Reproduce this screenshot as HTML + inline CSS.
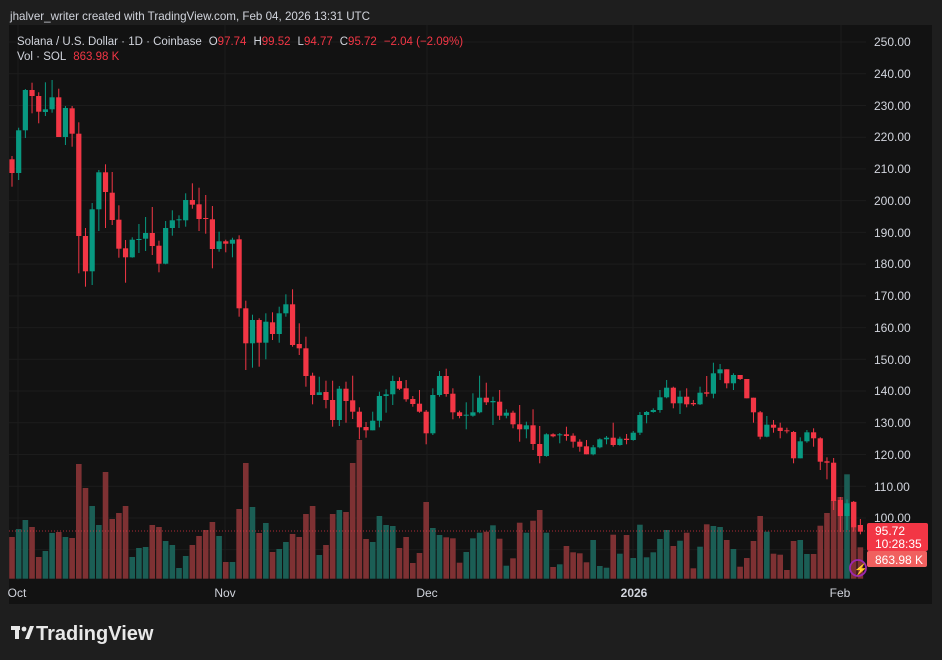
<!DOCTYPE html>
<html><head><meta charset="utf-8">
<style>
body{margin:0;width:942px;height:660px;background:#1e1e1e;overflow:hidden;font-family:"Liberation Sans",sans-serif;}
svg{position:absolute;left:0;top:0}
</style></head><body>
<svg id="s" width="942" height="660" xmlns="http://www.w3.org/2000/svg" font-family="Liberation Sans, sans-serif">
<rect x="0" y="0" width="942" height="660" fill="#1e1e1e"/>
<text x="10" y="20" fill="#d1d4dc" font-size="11.6">jhalver_writer created with TradingView.com, Feb 04, 2026 13:31 UTC</text>
<rect x="9" y="25" width="923" height="579" fill="#121212"/>
<g id="grid" stroke="#1c1c1c" stroke-width="1"></g>
<g id="vol"></g>
<line x1="9" y1="531" x2="866" y2="531" stroke="#f23645" stroke-width="1" stroke-dasharray="1,2" opacity="0.7"/>
<g id="cnd"></g>
<g font-size="12" fill="#d1d4dc" id="pax">
<text x="874" y="46">250.00</text><text x="874" y="78">240.00</text><text x="874" y="110">230.00</text><text x="874" y="141">220.00</text><text x="874" y="173">210.00</text><text x="874" y="205">200.00</text><text x="874" y="237">190.00</text><text x="874" y="268">180.00</text><text x="874" y="300">170.00</text><text x="874" y="332">160.00</text><text x="874" y="364">150.00</text><text x="874" y="395">140.00</text><text x="874" y="427">130.00</text><text x="874" y="459">120.00</text><text x="874" y="491">110.00</text><text x="874" y="522">100.00</text>
</g>
<rect x="867" y="523" width="61" height="28" rx="2" fill="#f23645"/>
<rect x="867" y="551" width="60" height="16" rx="2" fill="#f0605f"/>
<text x="875" y="535" fill="#fff" font-size="12">95.72</text>
<text x="875" y="548" fill="#fff" font-size="12">10:28:35</text>
<text x="875" y="564" fill="#fff" font-size="12">863.98 K</text>
<g font-size="12" fill="#d1d4dc" text-anchor="middle">
<text x="17" y="597">Oct</text><text x="225" y="597">Nov</text><text x="427" y="597">Dec</text><text x="634" y="597" font-weight="bold">2026</text><text x="840" y="597">Feb</text>
</g>
<circle cx="858" cy="568" r="8" fill="none" stroke="#9c27b0" stroke-width="1.8"/>
<text x="854" y="573" fill="#b066e0" font-size="11">⚡</text>
<text x="17" y="45" font-size="11.5" fill="#d1d4dc">Solana / U.S. Dollar · 1D · Coinbase<tspan dx="7">O</tspan><tspan fill="#f23645">97.74</tspan><tspan dx="7">H</tspan><tspan fill="#f23645">99.52</tspan><tspan dx="7">L</tspan><tspan fill="#f23645">94.77</tspan><tspan dx="7">C</tspan><tspan fill="#f23645">95.72</tspan><tspan dx="7" fill="#f23645">−2.04 (−2.09%)</tspan></text>
<text x="17" y="60" font-size="11.5" fill="#d1d4dc">Vol · SOL<tspan fill="#f23645" dx="7">863.98 K</tspan></text>
<g transform="translate(11,624)" fill="#e8e8e8">
<rect x="0" y="2" width="9" height="4"/><rect x="4" y="2" width="4" height="13"/>
<circle cx="13" cy="5" r="2.4"/><polygon points="14,15 19,2 23,2 18,15"/>
</g>
<text x="36" y="640" fill="#e8e8e8" font-size="20" font-weight="bold">TradingView</text>
</svg>
<script>
var C=[[159.3,173,156,186.7,0],[130.3,173,127.7,180,1],[90,130.3,89,138,1],[90,96,82.7,113.3,0],[96,111.7,92.3,123.3,0],[109.3,112,82.3,116,1],[97.3,109.3,80,112.7,1],[97.3,137,88.7,137,0],[108,137,106,145,1],[108.3,133.7,106,146.7,0],[133.7,236,122.3,273.3,0],[236,271.3,228,286.7,0],[209.3,271.3,203,285,1],[172.3,209.3,170,231,1],[172.3,192,164.3,228,0],[192.7,220,172,225,0],[219.7,248.7,205.3,257.7,0],[248.3,257.3,240,282.7,0],[239.7,257.3,237.3,257.7,1],[239,240,224,253,1],[233,238.7,217,251,1],[233,246,207,255,0],[245.7,263.7,240.7,272.3,0],[228,263.7,221,264.3,1],[220.3,228,210.3,235.7,1],[219.3,220.3,215.3,228,1],[200,220.3,193.3,226.7,1],[200,204.7,183.3,208.7,0],[204.3,219,187.7,231,0],[218,219,195,233.7,0],[219.3,249,206,268.3,0],[241.3,249,231.7,251.7,1],[241.3,243.7,239.7,252.3,0],[239.7,243.7,237.7,257.3,1],[239.3,308.3,235.3,316.7,0],[308.3,343.3,300.7,370,0],[320,343.3,314.7,367.7,1],[320,342.7,318.3,366.7,0],[321.7,342.7,313.3,359.3,1],[322.3,334,312.3,340,0],[313.3,334,306.7,342.7,1],[304.3,313.3,294.3,316.7,1],[304.3,345,289.3,346.7,0],[344,348.3,323.3,355,0],[348.3,376,336.7,386.7,0],[375.7,395,372.7,404.3,0],[392.3,395,376.7,395,1],[392,400,380.7,408.3,0],[400,420,380.7,426.7,0],[388.7,420,386,426,1],[388.7,401,381.7,422.7,0],[400.3,411.7,375.7,419,0],[411.7,427.3,407.3,439.3,0],[427,430.3,422,437.7,0],[420.7,430.3,411.7,430.3,1],[396,420.7,391.7,427.3,1],[394.3,396,389.3,412.7,1],[381,394.3,375.7,405,1],[381,388.7,377.3,390,0],[388.3,399.3,380,401.7,0],[399,404,396,406.7,0],[403.7,411.7,390,412.7,0],[411.7,433.3,410,444.3,0],[395,433.3,388.3,435,1],[376,395,371,396.7,1],[376,394,368.7,396.7,0],[393.7,412.3,388.3,419.3,0],[412.3,416,410.7,418.3,0],[414.7,415.3,402.3,429.3,1],[412.3,415.7,393.3,416.7,1],[397.7,412.3,375.7,413.3,1],[397.7,402.3,382.7,405,0],[401,402.3,396.7,425,1],[401.7,415.7,390,420,0],[412.7,415.7,409.3,418.3,1],[412.7,424.3,410.7,428.3,0],[424.3,429.3,405,441.7,0],[425.3,429.3,421.7,438.3,1],[425.3,444,409.3,450,0],[444,456,426,463.3,0],[434.3,456,433.3,456.7,1],[434.3,436.3,433.3,437.3,0],[434.3,435,433,443.3,1],[434.3,436,426.7,440.7,0],[435.7,441.7,433.3,447.7,0],[441.7,446.7,439.3,451.7,0],[446.3,454.3,440,454.3,0],[447.3,454.3,445,455.3,1],[439.3,447.3,438.3,448.3,1],[437.7,439.3,436,444.3,1],[437.7,445,422.7,446.7,0],[438.7,445,436.7,445.7,1],[438.7,440,434,444.3,0],[432.7,440,431,440.7,1],[415,432.7,412,435,1],[412,415,411,423.3,1],[410,412,408.3,412.7,1],[397.3,410,390,412.7,1],[387.7,397.3,380,398.3,1],[387.7,403.3,386.7,408.3,0],[396.7,403.3,390.7,414,1],[396.7,404.3,388.3,407.3,0],[403,404.3,400,406,0],[392.7,404.3,386.7,405,1],[392.3,393.7,376,396.7,0],[373.3,393.7,362.7,398.3,1],[369.3,373.3,364,380,1],[369.3,383.3,369.3,388.3,0],[375,383.3,373.3,390,1],[375,379,375,380,0],[379,398.3,379,398.3,0],[397.7,412.3,397.7,422.7,0],[412.3,436.7,411,439.3,0],[424.7,436.7,416,437.3,1],[424.7,427.7,420,432.7,0],[427.7,431,422.7,438.3,0],[430.3,431,427.7,433.3,0],[432,458.3,431,463.3,0],[441.3,458.3,437.3,458.3,1],[432.3,441.3,430,442.7,1],[432.3,438.3,428.3,446.7,0],[438.3,461.7,437.3,470,0],[461.3,462.7,457.3,479.3,0],[462.7,501,458,510,0],[500,516,497,532,0],[503.3,516,499.3,530,1],[502,527.3,501,531.7,0],[525,531.7,519,534.3,0]];
var V=[537,529,520,527,557,551,533,532,537,538,464,488,506,525,472,519,513,506,557,548,547,525,527,541,545,568,556,545,536,530,522,536,562,562,509,463,507,533,523,552,549,542,534,537,514,506,555,545,514,510,512,463,440,539,542,516,525,526,548,537,563,553,502,528,535,537.3,538.3,562.7,552,538.3,532.7,531.7,525.3,538.7,565.7,558.3,522.7,532.7,520.7,510,532.7,567,564.3,546,552.3,553.3,562.3,540,566,567.7,534.7,553.7,535,558,524.7,557.3,552.3,539,530,546,540.7,532.7,568.3,546.7,524.3,526,527,540,549,566.7,558,541,516,531.7,553.7,554.7,570,541,540,554,554,525.7,513,500,497,474.3,501.7,547.3];
var NS="http://www.w3.org/2000/svg";
function el(p,t,a){var e=document.createElementNS(NS,t);for(var k in a)e.setAttribute(k,a[k]);p.appendChild(e);}
var g=document.getElementById('grid');
for(var i=0;i<17;i++){var y=42+i*31.73;el(g,'line',{x1:9,x2:866,y1:y,y2:y});}
[18,225,427,633,841].forEach(function(x){el(g,'line',{x1:x,x2:x,y1:25,y2:580});});
var vg=document.getElementById('vol'),cg=document.getElementById('cnd');
for(var i=0;i<C.length;i++){
 var x=12+i*6.68,c=C[i],up=c[4];
 el(vg,'rect',{x:x-2.8,y:V[i],width:5.6,height:Math.max(0,578.7-V[i]),fill:up?'#1b5e55':'#7e3133'});
 var col=up?'#089981':'#f23645';
 el(cg,'rect',{x:x-0.5,y:c[2],width:1,height:c[3]-c[2],fill:col});
 el(cg,'rect',{x:x-2.6,y:c[0],width:5.2,height:Math.max(1,c[1]-c[0]),fill:col});
}
</script>
</body></html>
